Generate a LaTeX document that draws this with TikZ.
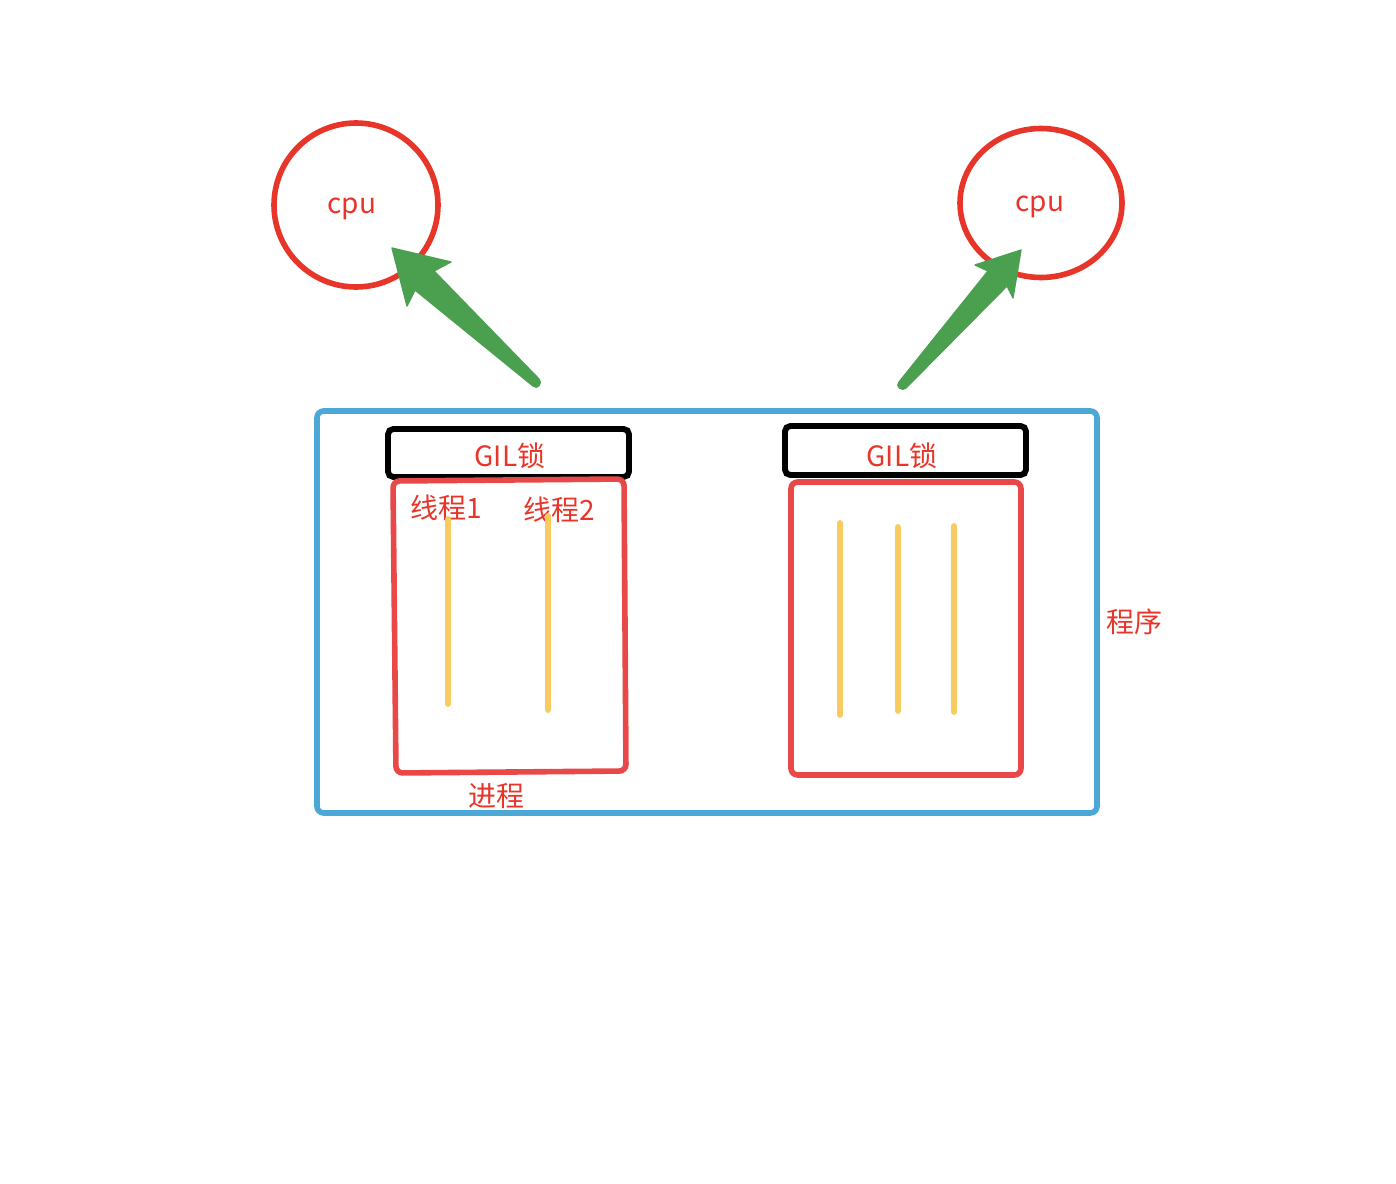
\documentclass[tikz,border=0pt]{standalone}
\usepackage{fontspec}
\setmainfont{Noto Sans CJK SC}
\usetikzlibrary{shapes.geometric}
\definecolor{cred}{HTML}{E8352A}
\definecolor{pred}{HTML}{E84848}
\definecolor{cblue}{HTML}{4BA7D6}
\definecolor{cgreen}{HTML}{4AA04F}
\definecolor{cyel}{HTML}{F7CB5F}
\tikzset{
  lbl/.style={text=cred, font=\fontsize{21}{23}\selectfont, inner sep=0pt},
  cpunode/.style={draw=cred, line width=4.2pt, ellipse, inner sep=0pt},
  gilbox/.style={draw=black, line width=4.4pt, rounded corners=4pt, inner sep=0pt},
  thread/.style={draw=cyel, line width=4.4pt, line cap=round},
  bigarrow/.style={fill=cgreen, draw=cgreen, line width=1pt, line join=round},
}
\begin{document}
\begin{tikzpicture}[x=0.75pt,y=-0.75pt]
\useasboundingbox (0,0) rectangle (1396,1184);
% cpus
\node[cpunode, minimum width=164*0.75pt, minimum height=164*0.75pt] (cpu1) at (356,205) {};
\node[lbl] (cpu1t) at (352,209) {cpu};
\node[cpunode, minimum width=162*0.75pt, minimum height=149*0.75pt] (cpu2) at (1041,203) {};
\node[lbl] (cpu2t) at (1040,207) {cpu};
% program box
\node[draw=cblue, line width=4.2pt, rounded corners=5pt, minimum width=780*0.75pt, minimum height=402*0.75pt, inner sep=0pt] (prog) at (707,612) {};
\node[lbl] (progt) at (1134,622) {程序};
% GIL boxes
\node[gilbox, minimum width=241*0.75pt, minimum height=48*0.75pt] (gil1) at (508.5,453) {};
\node[lbl] (gil1t) at (510,456) {GIL锁};
\node[gilbox, minimum width=241*0.75pt, minimum height=49*0.75pt] (gil2) at (905.5,450.5) {};
\node[lbl] (gil2t) at (902,456) {GIL锁};
% process boxes
\coordinate (p1a) at (393,481);
\coordinate (p1b) at (624,479);
\coordinate (p1c) at (626,771);
\coordinate (p1d) at (396,773);
\draw[draw=pred, line width=4.2pt, rounded corners=5pt] (p1a) -- (p1b) -- (p1c) -- (p1d) -- cycle;
\node[draw=pred, line width=4.2pt, rounded corners=5pt, minimum width=230*0.75pt, minimum height=293*0.75pt, inner sep=0pt] (proc2) at (906,628.5) {};
\node[lbl] (proc1t) at (496,796) {进程};
\node[lbl] (th1t) at (446,508) {线程1};
\node[lbl] (th2t) at (559,510) {线程2};
% threads
\coordinate (t1a) at (448,519); \coordinate (t1b) at (448,704);
\coordinate (t2a) at (548,516); \coordinate (t2b) at (548,710);
\coordinate (t3a) at (840,523); \coordinate (t3b) at (840,715);
\coordinate (t4a) at (898,527); \coordinate (t4b) at (898,711);
\coordinate (t5a) at (954,526); \coordinate (t5b) at (954,712);
\draw[thread] (t1a) -- (t1b);
\draw[thread] (t2a) -- (t2b);
\draw[thread] (t3a) -- (t3b);
\draw[thread] (t4a) -- (t4b);
\draw[thread] (t5a) -- (t5b);
% arrows
\coordinate (a1tip) at (392,248);
\coordinate (a1b1) at (451,262);
\coordinate (a1n1) at (434,271);
\coordinate (a1t1) at (539,379);
\coordinate (a1t2) at (533,386);
\coordinate (a1n2) at (415,290);
\coordinate (a1b2) at (407,306);
\filldraw[bigarrow] (a1tip) -- (a1b1) -- (a1n1) -- (a1t1) to[out=-45,in=-45,looseness=1.6] (a1t2) -- (a1n2) -- (a1b2) -- cycle;
\coordinate (a2tip) at (1021,250);
\coordinate (a2b1) at (975,265);
\coordinate (a2n1) at (988,271);
\coordinate (a2t1) at (899,382);
\coordinate (a2t2) at (906,388);
\coordinate (a2n2) at (1007,286);
\coordinate (a2b2) at (1013,298);
\filldraw[bigarrow] (a2tip) -- (a2b1) -- (a2n1) -- (a2t1) to[out=-135,in=-135,looseness=1.6] (a2t2) -- (a2n2) -- (a2b2) -- cycle;
\end{tikzpicture}
\end{document}
